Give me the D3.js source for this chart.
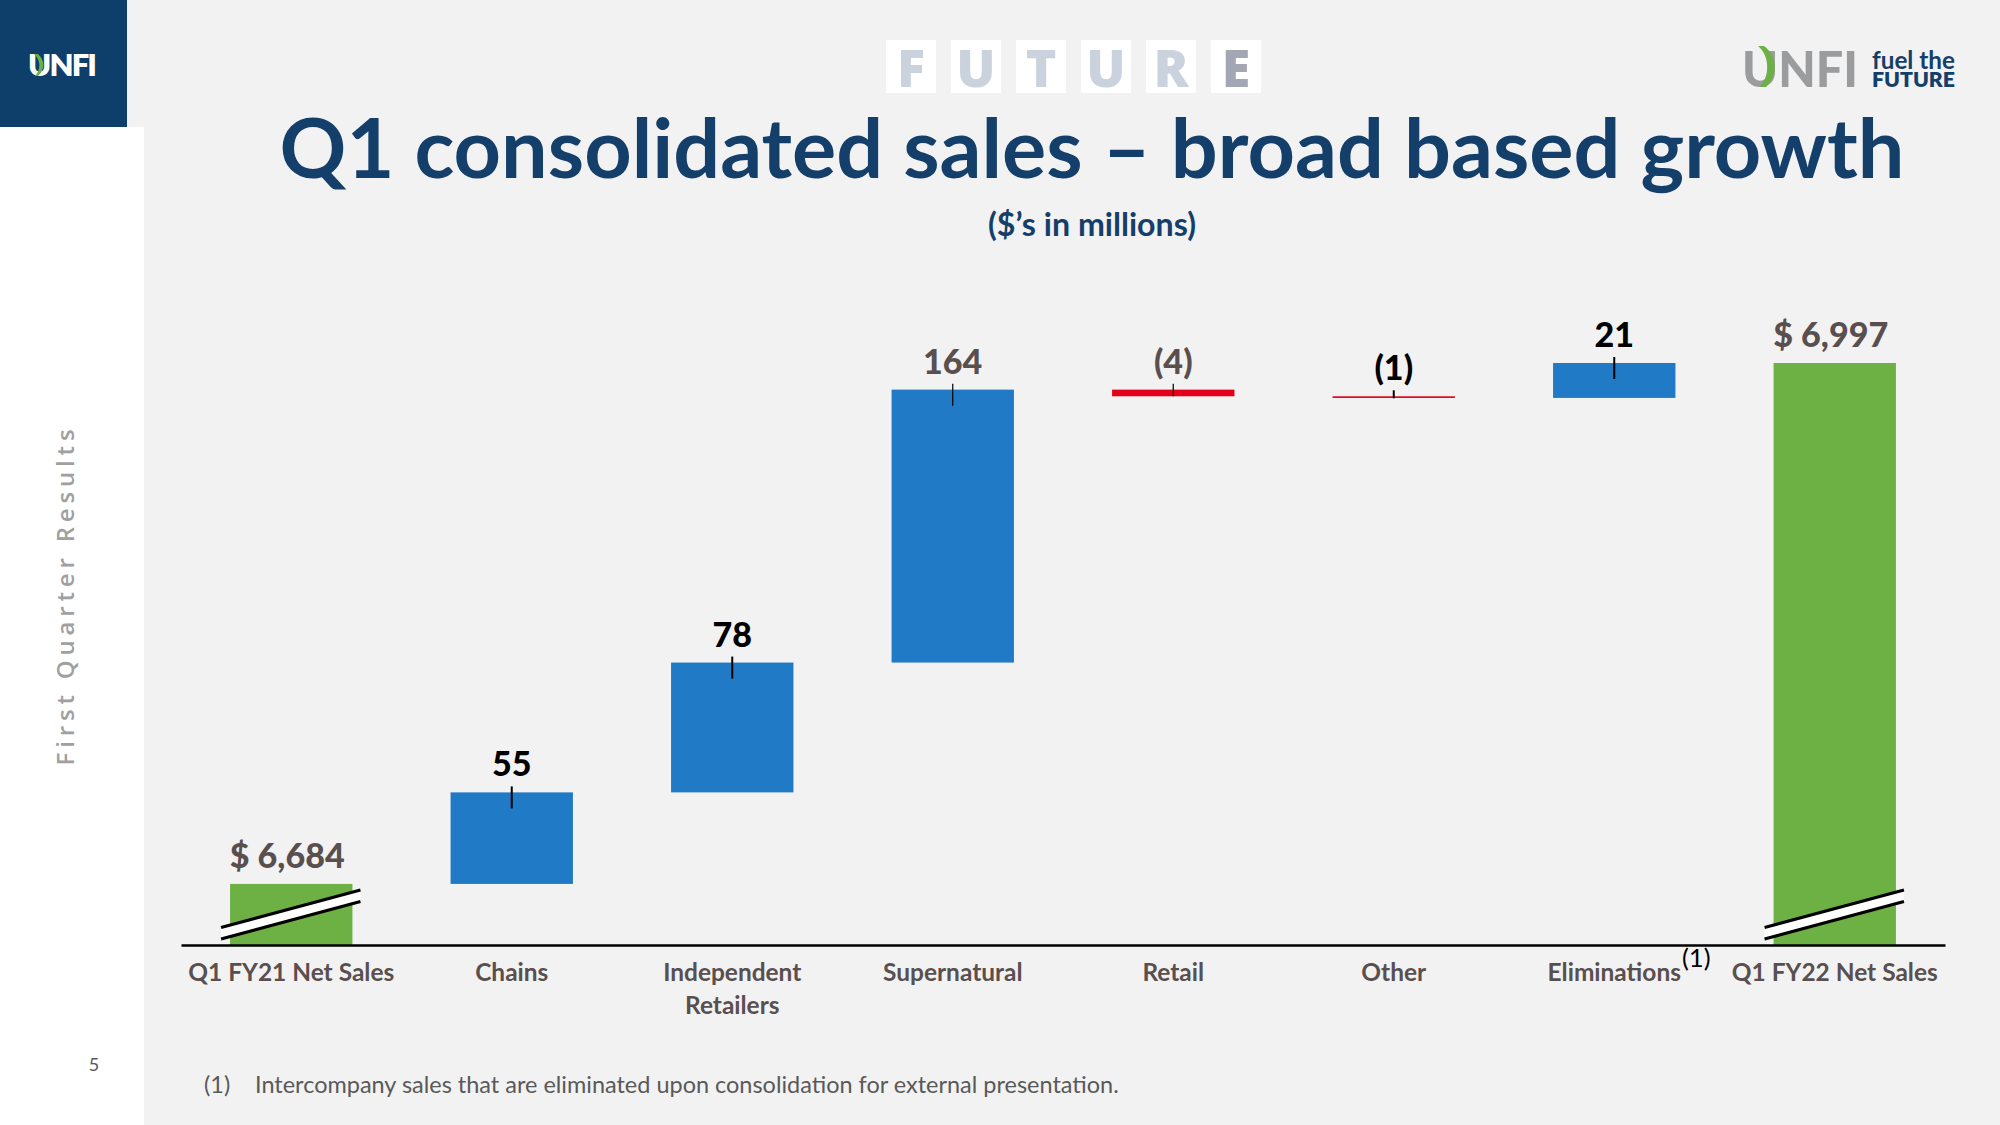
<!DOCTYPE html>
<html><head><meta charset="utf-8">
<script src="https://cdn.jsdelivr.net/npm/d3@7"></script>
<style>
html,body{margin:0;padding:0;background:#f2f2f2;}
svg{display:block;}
</style></head><body>
<svg id="c" width="2000" height="1125"></svg>
<script>
// ---------------- data ----------------
const categories = ["Q1 FY21 Net Sales","Chains","Independent Retailers","Supernatural","Retail","Other","Eliminations","Q1 FY22 Net Sales"];
const categoryLines = [["Q1 FY21 Net Sales"],["Chains"],["Independent","Retailers"],["Supernatural"],["Retail"],["Other"],["Eliminations"],["Q1 FY22 Net Sales"]];
const categoryNotes = ["","","","","","","(1)",""];
const kinds = ["total","delta","delta","delta","delta","delta","delta","total"];
const values = [6684, 55, 78, 164, -4, -1, 21, 6997];
const titleText = "Q1 consolidated sales \u2013 broad based growth";
const subtitleText = "($\u2019s in millions)";
const footnoteMark = "(1)";
const footnoteText = "Intercompany sales that are eliminated upon consolidation for external presentation.";
const sideText = "First Quarter Results";
const pageNumber = "5";
const futureLetters = ["F","U","T","U","R","E"];

// ---------------- styles ----------------
const FONT = "Lato, 'Open Sans', sans-serif";
const navy = "#143f6a";
const labelGray = "#594f4f";
const colTotal = "#6db043", colUp = "#217ac6", colDown = "#e3001b";
const labelInk = ["#594f4f","#000","#000","#594f4f","#594f4f","#000","#000","#594f4f"];

const svg = d3.select("#c");

function fit(text, weight, target, family = FONT) {
  const t = svg.append("text").attr("font-family", family).attr("font-weight", weight)
    .attr("font-size", 100).text(text);
  const w = t.node().getComputedTextLength(); t.remove();
  return 100 * target / w;
}

// background & side panels
svg.append("rect").attr("x",0).attr("y",0).attr("width",2000).attr("height",1125).attr("fill","#f2f2f2");
svg.append("rect").attr("x",0).attr("y",127).attr("width",144).attr("height",998).attr("fill","#ffffff");
svg.append("rect").attr("x",0).attr("y",0).attr("width",127).attr("height",127).attr("fill","#0e3f6b");

// left logo
{
  const fs = 31;
  const t = svg.append("text").attr("font-family",FONT).attr("font-weight",800).attr("font-size",fs).text("UNFI");
  const w = t.node().getComputedTextLength(); t.remove();
  svg.append("text").attr("x",28).attr("y",76).attr("font-family",FONT).attr("font-weight",800)
    .attr("font-size",fs).attr("letter-spacing",(69 - w)/3).attr("fill","#fff").text("UNFI");
  svg.append("path").attr("d","M38,54 C45,60 45,70 38,76 L35,76 C41,70 41,60 34,54 Z").attr("fill","#6db043");
}

// side vertical text
{
  const fs = 24;
  const fam = "'Open Sans', sans-serif";
  const t = svg.append("text").attr("font-family",fam).attr("font-weight",600).attr("font-size",fs).text(sideText);
  const w = t.node().getComputedTextLength(); t.remove();
  const ls = (336 - w) / (sideText.length - 1);
  svg.append("text").attr("transform","translate(74,595) rotate(-90)")
    .attr("text-anchor","middle").attr("font-family",fam).attr("font-weight",600).attr("font-size",fs)
    .attr("letter-spacing",ls).attr("fill","#a0a0a0").text(sideText);
}

// FUTURE boxes
{
  const g = svg.append("g");
  futureLetters.forEach((L,i) => {
    const x0 = 886 + i*65;
    g.append("rect").attr("x",x0).attr("y",40).attr("width",50).attr("height",53).attr("fill","#fff");
    g.append("text").attr("x",x0+25).attr("y",87).attr("text-anchor","middle")
      .attr("font-family","'Open Sans', sans-serif").attr("font-weight",800).attr("font-size",52)
      .attr("fill", i === futureLetters.length-1 ? "#a3a6b3" : "#cad3dd").text(L);
  });
}

// right logo
{
  const fs = fit("UNFI", 900, 116);
  svg.append("text").attr("x",1742).attr("y",87).attr("font-family",FONT).attr("font-weight",900)
    .attr("font-size",fs).attr("fill","#9a9c9e").text("UNFI");
  svg.append("path").attr("d","M1764,46 C1778,56 1778,76 1766,87 L1760,87 C1770,76 1770,56 1758,46 Z").attr("fill","#6db043");
  const f1 = fit("fuel the", 700, 83);
  const f2 = fit("FUTURE", 800, 83);
  const t = svg.append("text").attr("font-family",FONT).attr("fill",navy);
  t.append("tspan").attr("x",1872).attr("y",69).attr("font-weight",700).attr("font-size",f1).text("fuel the");
  t.append("tspan").attr("x",1872).attr("y",87).attr("font-weight",800).attr("font-size",f2).text("FUTURE");
}

// title & subtitle
{
  const fs = fit(titleText, 700, 1625);
  svg.append("text").attr("x",1092).attr("y",178).attr("text-anchor","middle")
    .attr("font-family",FONT).attr("font-weight",700).attr("font-size",fs).attr("fill",navy).text(titleText);
  const fs2 = fit(subtitleText, 700, 208);
  svg.append("text").attr("x",1092).attr("y",236).attr("text-anchor","middle")
    .attr("font-family",FONT).attr("font-weight",700).attr("font-size",fs2).attr("fill",navy).text(subtitleText);
}

// ---------------- chart ----------------
const x = d3.scaleBand().domain(categories).range([181, 1945]).paddingInner(0.445).paddingOuter(0.2225);
const y = d3.scaleLinear().domain([6647.3, 6997]).range([945, 363]);
const bw = x.bandwidth();

let run = 0;
const bars = categories.map((c,i) => {
  let v0, v1;
  if (kinds[i] === "total") { v0 = y.domain()[0]; v1 = values[i]; run = values[i]; }
  else { v0 = run; v1 = run + values[i]; run = v1; }
  const color = kinds[i] === "total" ? colTotal : (values[i] >= 0 ? colUp : colDown);
  const label = kinds[i] === "total" ? "$ " + d3.format(",")(values[i])
    : (values[i] < 0 ? "(" + Math.abs(values[i]) + ")" : String(values[i]));
  return {c, i, v0, v1, color, label, top: Math.min(y(v0), y(v1)), bot: Math.max(y(v0), y(v1))};
});

const chart = svg.append("g");
chart.selectAll("rect.bar").data(bars).join("rect").attr("class","bar")
  .attr("x", d => x(d.c)).attr("width", bw)
  .attr("y", d => d.top).attr("height", d => Math.max(1.6, d.bot - d.top))
  .attr("fill", d => d.color);

// leaders on delta bars
chart.selectAll("line.lead").data(bars.filter(d => kinds[d.i] === "delta")).join("line").attr("class","lead")
  .attr("x1", d => x(d.c) + bw/2).attr("x2", d => x(d.c) + bw/2)
  .attr("y1", d => d.top - 6).attr("y2", d => Math.min(d.top + 16, Math.max(d.bot, d.top + 2)))
  .attr("stroke", "#000").attr("stroke-width", d => labelInk[d.i] === "#000" ? 2 : 1.2);

// value labels
const vfs = fit("$ 6,684", 900, 115);
chart.selectAll("text.val").data(bars).join("text").attr("class","val")
  .attr("x", d => x(d.c) + bw/2 - (kinds[d.i] === "total" ? 4 : 0)).attr("y", d => d.top - 16)
  .attr("text-anchor","middle").attr("font-family",FONT).attr("font-weight",900)
  .attr("font-size", vfs).attr("fill", d => labelInk[d.i]).text(d => d.label);

// axis break marks on totals
const breaks = chart.selectAll("g.brk").data(bars.filter(d => kinds[d.i] === "total")).join("g").attr("class","brk");
const axisY = y.range()[0];
breaks.append("path")
  .attr("d", d => { const a = x(d.c) - 9, b = x(d.c) + bw + 8;
    return `M${a},${axisY-17.5} L${b},${axisY-55} L${b},${axisY-43.5} L${a},${axisY-6} Z`; })
  .attr("fill","#ffffff");
breaks.append("line").attr("x1", d => x(d.c) - 9).attr("x2", d => x(d.c) + bw + 8)
  .attr("y1", axisY-17.5).attr("y2", axisY-55).attr("stroke","#000").attr("stroke-width",3);
breaks.append("line").attr("x1", d => x(d.c) - 9).attr("x2", d => x(d.c) + bw + 8)
  .attr("y1", axisY-6).attr("y2", axisY-43.5).attr("stroke","#000").attr("stroke-width",3);

// x axis
const axisG = svg.append("g").attr("transform", `translate(0,${axisY})`)
  .call(d3.axisBottom(x).tickSize(0).tickSizeOuter(0).tickPadding(0));
axisG.select(".domain").attr("stroke","#000").attr("stroke-width",2.6);
const cfs = fit("Q1 FY21 Net Sales", 700, 206);
axisG.selectAll(".tick text").each(function(c) {
  const i = categories.indexOf(c);
  const t = d3.select(this).text(null).attr("y", 0).attr("dy", null)
    .attr("font-family", FONT).attr("font-weight", 700).attr("font-size", cfs).attr("fill", labelGray);
  categoryLines[i].forEach((ln, k) => {
    t.append("tspan").attr("x", 0).attr("y", 36 + k*33).text(ln);
  });
  if (categoryNotes[i]) {
    const w = this.getComputedTextLength();
    d3.select(this.parentNode).append("text").attr("x", w/2 + 1).attr("y", 22)
      .attr("font-family", FONT).attr("font-weight", 400).attr("font-size", cfs*1.05)
      .attr("fill", "#000").attr("text-anchor","start").text(categoryNotes[i]);
  }
});

// footnote & page number
{
  const ffs = fit(footnoteText, 400, 864);
  svg.append("text").attr("x",204).attr("y",1093).attr("font-family",FONT).attr("font-size",ffs)
    .attr("fill","#595959").text(footnoteMark);
  svg.append("text").attr("x",255).attr("y",1093).attr("font-family",FONT).attr("font-size",ffs)
    .attr("fill","#595959").text(footnoteText);
  svg.append("text").attr("x",94).attr("y",1071).attr("text-anchor","middle").attr("font-family",FONT)
    .attr("font-size",18).attr("fill","#595959").text(pageNumber);
}
</script>
</body></html>
